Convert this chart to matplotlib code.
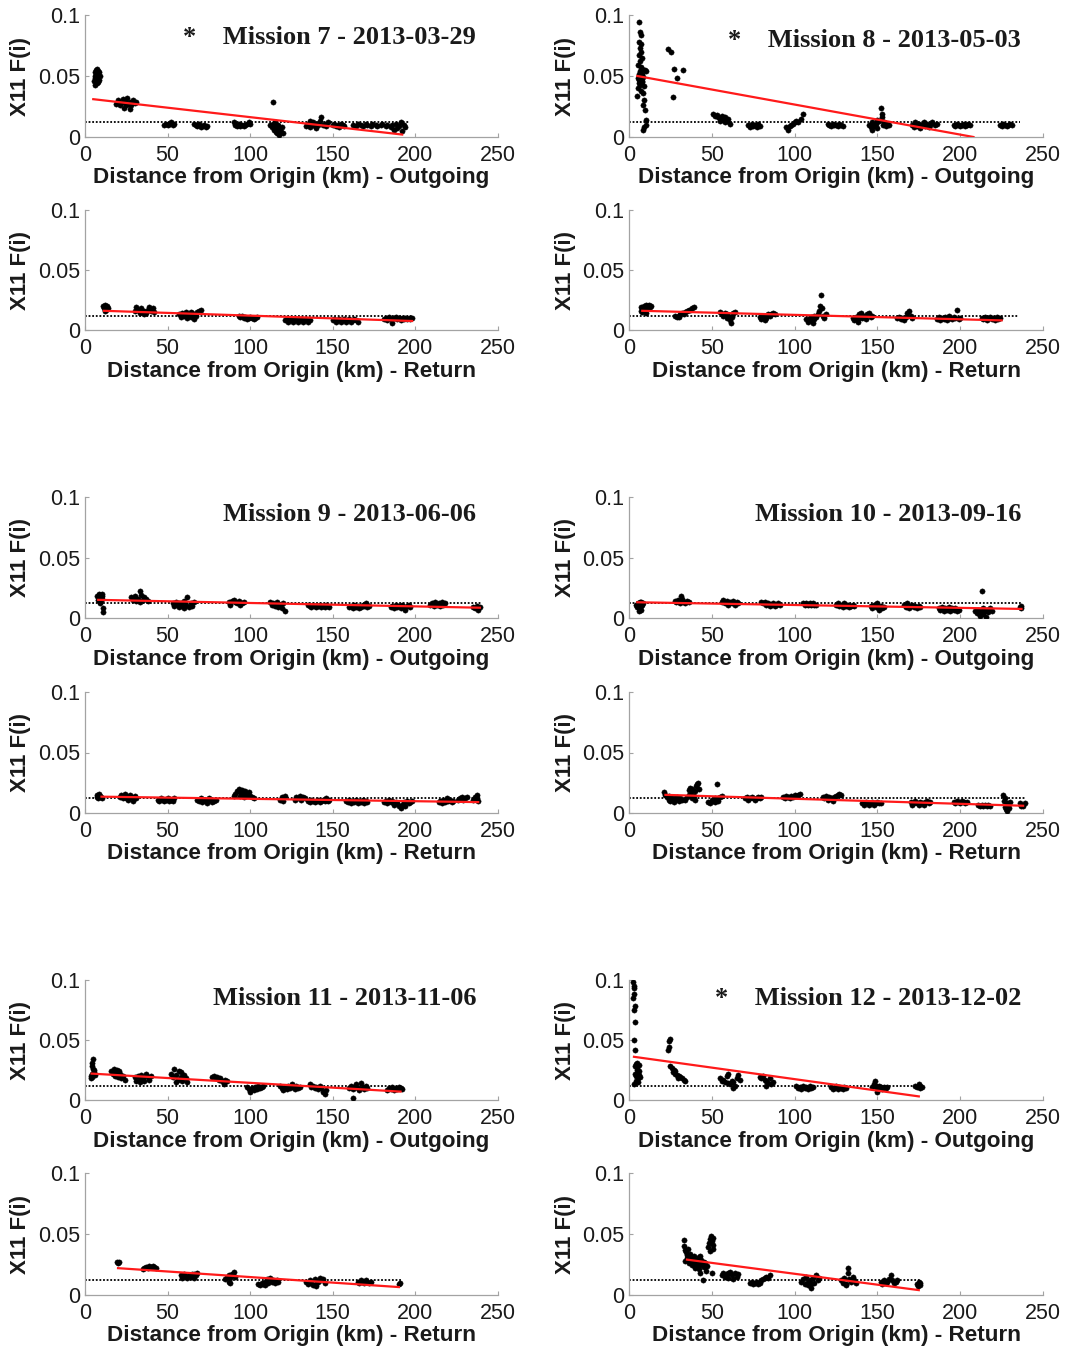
import matplotlib
matplotlib.use("Agg")
import matplotlib.pyplot as plt

# ---------------------------------------------------------------------------
# X11 F(i) versus distance from origin, outgoing and return legs per mission
# ---------------------------------------------------------------------------

m7_out = [(5.5, .046), (5.8, .050), (6.0, .053), (6.3, .048), (6.6, .055), (6.9, .051), (7.2, .044), (7.5, .049),
          (7.8, .054), (8.1, .052), (8.4, .047), (8.7, .053), (9.0, .050), (6.2, .043), (7.0, .056), (8.0, .045),
          (19, .027), (20, .030), (21, .026), (22, .028), (23, .031), (23.5, .024), (24, .029), (25, .026),
          (25.5, .032), (26, .027), (27, .023), (27.5, .029), (28, .026), (29, .030), (30, .028), (31, .029),
          (48, .010), (49, .011), (50, .0095), (51, .011), (52, .012), (53, .010), (54, .011),
          (66, .011), (67, .010), (68, .009), (69, .011), (70, .008), (71, .009), (72, .010), (73, .008), (74, .009),
          (90, .012), (91, .010), (92, .009), (93, .011), (94, .009), (95, .010), (96, .009), (97, .010), (98, .011),
          (99, .012), (100, .011), (114, .029),
          (112, .010), (113, .008), (114, .011), (114.5, .006), (115, .009), (115.5, .004), (116, .007), (116.5, .003),
          (117, .005), (117.5, .002), (118, .006), (118.5, .004), (119, .008), (120, .003), (115, .012), (117, .010),
          (134, .009), (135, .011), (136, .008), (137, .010), (138, .012), (139, .009), (140, .011), (141, .010),
          (142, .013), (143, .016), (144, .010), (145, .011), (146, .009), (147, .012), (136, .013), (140, .007),
          (150, .010), (151, .011), (152, .009), (153, .010), (154, .008), (155, .011), (156, .010), (157, .009),
          (162, .010), (164, .009), (165, .011), (167, .010), (168, .009), (170, .011), (171, .010), (173, .009),
          (174, .011), (176, .010), (177, .009), (179, .010), (180, .011), (182, .009), (183, .010),
          (185, .008), (186, .010), (187, .006), (188, .011), (189, .007), (190, .009), (191, .012), (192, .005),
          (193, .010), (194, .008)]

m7_ret = [(11, .020), (11.5, .018), (12, .021), (12.5, .019), (13, .017), (13.5, .020), (14, .018), (12, .016),
          (30, .016), (31, .019), (32, .017), (33, .014), (34, .018), (35, .015), (36, .016), (37, .014), (38, .017),
          (39, .019), (40, .016), (41, .018), (42, .015), (36, .013),
          (57, .013), (58, .011), (59, .014), (60, .012), (61, .015), (62, .010), (63, .013), (64, .011), (65, .014),
          (66, .009), (67, .012), (68, .015), (69, .016), (70, .017), (64, .015),
          (93, .012), (94, .011), (95, .012), (96, .010), (97, .011), (98, .009), (99, .010), (100, .011), (101, .010),
          (102, .009), (103, .010), (104, .011),
          (121, .008), (122, .009), (123, .007), (124, .008), (125, .009), (126, .007), (127, .008), (128, .009),
          (129, .007), (130, .008), (131, .009), (132, .007), (133, .008), (134, .009), (135, .007), (136, .008),
          (150, .008), (151, .009), (152, .007), (153, .008), (154, .009), (155, .007), (156, .008), (157, .009),
          (158, .007), (159, .008), (160, .009), (161, .007), (162, .008), (163, .009), (164, .008), (165, .007),
          (181, .009), (182, .010), (183, .008), (184, .011), (185, .009), (186, .006), (187, .010), (188, .011),
          (189, .009), (190, .010), (191, .008), (192, .010), (193, .009), (194, .010), (195, .009), (196, .010),
          (197, .009), (198, .010)]

m8_out = [(6, .094), (6.5, .086), (7, .084), (6.2, .078), (7.5, .076), (6.8, .073), (7.2, .070), (6.0, .067),
          (7.8, .065), (6.4, .062), (5.5, .059), (7.0, .057), (8.0, .056), (6.6, .054), (5.8, .052), (7.4, .050),
          (8.4, .049), (6.1, .047), (7.7, .045), (6.9, .043), (8.8, .042), (5.4, .040), (7.3, .038), (8.2, .036),
          (5.0, .034), (9.0, .030), (8.6, .026), (9.5, .022), (10.5, .014), (9.2, .008), (8.5, .006), (10, .010),
          (5.2, .048), (9.8, .055), (10.3, .054), (8.0, .052), (6.3, .044), (7.9, .046),
          (23.5, .072), (25.5, .070), (26.5, .033), (27, .056), (29, .048), (32.7, .055),
          (51, .019), (52, .017), (53, .018), (54, .016), (55, .015), (56, .017), (57, .014), (58, .016), (59, .013),
          (60, .015), (61, .011), (58, .012), (55, .013),
          (72, .010), (73, .008), (74, .011), (75, .009), (76, .010), (77, .008), (78, .011), (79, .009),
          (95, .008), (96, .006), (97, .009), (98, .010), (99, .011), (100, .012), (101, .013), (102, .012),
          (104, .015), (105, .019),
          (120, .011), (121, .010), (122, .009), (123, .011), (124, .010), (125, .010), (126, .009), (127, .011),
          (128, .010), (129, .009),
          (145, .010), (146, .008), (147, .012), (148, .009), (149, .011), (150, .007), (151, .013), (152, .024),
          (152.5, .019), (153, .016), (153.5, .010), (154, .012), (155, .009), (156, .011), (157, .010), (150, .014),
          (147, .006),
          (171, .010), (172, .008), (173, .012), (174, .009), (175, .011), (176, .007), (177, .010), (178, .012),
          (179, .009), (180, .011), (181, .008), (182, .010), (183, .012), (185, .010), (186, .011),
          (196, .010), (197, .009), (198, .011), (199, .010), (200, .009), (201, .010), (202, .011), (203, .009),
          (204, .010), (205, .011), (206, .010),
          (224, .010), (225, .009), (226, .011), (227, .010), (228, .009), (229, .010), (230, .011), (231, .010)]

m8_ret = [(7, .016), (7.5, .019), (8, .018), (8.5, .017), (9, .020), (9.5, .016), (10, .019), (10.5, .021),
          (11, .018), (11.5, .020), (12, .021), (12.5, .019), (13, .020), (8, .015), (10, .014),
          (28, .012), (29, .011), (30, .012), (31, .013), (32, .014), (33, .013), (34, .015), (35, .016), (36, .017),
          (37, .017), (38, .018), (39, .019), (30, .011),
          (55, .015), (56, .013), (57, .012), (58, .014), (59, .010), (60, .012), (61, .008), (61.5, .006), (62, .011),
          (63, .014), (64, .015), (59, .013),
          (79, .011), (80, .009), (81, .012), (82, .008), (83, .010), (84, .013), (85, .012), (86, .013), (87, .014),
          (88, .013), (82, .011),
          (107, .009), (108, .007), (109, .010), (110, .008), (111, .006), (112, .009), (113, .011), (114, .013),
          (115, .016), (115.5, .020), (116, .029), (116.5, .018), (117, .012), (118, .010), (119, .013), (112, .012),
          (110, .011),
          (135, .010), (136, .008), (137, .011), (138, .009), (139, .013), (140, .014), (141, .010), (142, .012),
          (143, .009), (144, .013), (145, .014), (146, .011), (147, .012), (138, .007),
          (162, .010), (163, .011), (164, .009), (165, .010), (166, .008), (167, .011), (168, .014), (169, .016),
          (170, .012), (171, .010),
          (186, .009), (187, .011), (188, .008), (189, .010), (190, .009), (191, .011), (192, .008), (193, .012),
          (194, .010), (195, .009), (196, .011), (197, .010), (198, .017), (199, .009), (200, .010),
          (213, .010), (214, .009), (215, .011), (216, .008), (217, .010), (218, .011), (219, .009), (220, .010),
          (221, .008), (222, .011), (223, .009), (224, .010)]

m9_out = [(7.5, .018), (8, .015), (8.5, .019), (9, .013), (9.5, .017), (10, .016), (10.5, .020), (11, .008),
          (10.8, .005), (9.2, .012), (8.2, .020), (10.2, .018),
          (28, .017), (29, .015), (30, .018), (31, .014), (32, .016), (33, .022), (34, .019), (35, .015), (36, .017),
          (37, .016), (33, .013), (38, .014),
          (53, .012), (54, .010), (55, .013), (56, .011), (57, .009), (58, .012), (59, .010), (60, .008), (61, .011),
          (62, .017), (63, .009), (64, .012), (65, .010), (66, .013), (60, .014), (57, .012),
          (87, .013), (88, .011), (89, .014), (90, .015), (91, .013), (92, .012), (93, .014), (94, .011), (95, .012),
          (96, .013),
          (112, .013), (113, .011), (114, .012), (115, .010), (116, .013), (117, .009), (118, .011), (119, .008),
          (120, .012), (121, .006),
          (135, .011), (136, .010), (137, .009), (138, .011), (139, .010), (140, .009), (141, .010), (142, .011),
          (143, .009), (144, .010), (145, .009), (146, .011), (147, .010), (148, .009),
          (160, .009), (161, .010), (162, .008), (163, .011), (164, .009), (165, .010), (166, .008), (167, .009),
          (168, .011), (169, .010), (170, .012), (171, .009), (172, .010),
          (185, .009), (186, .010), (187, .008), (188, .011), (189, .009), (190, .010), (191, .008), (192, .011),
          (193, .009), (194, .007), (195, .010), (196, .011), (197, .009),
          (209, .011), (210, .012), (211, .010), (212, .013), (213, .011), (214, .012), (215, .010), (216, .013),
          (217, .011), (218, .012),
          (235, .009), (236, .008), (237, .010), (238, .007), (239, .009)]

m9_ret = [(7, .013), (7.5, .015), (8, .012), (8.5, .016), (9, .014), (9.5, .013), (10, .012),
          (21, .013), (22, .015), (23, .012), (24, .016), (25, .014), (26, .011), (27, .015), (28, .013), (29, .010),
          (30, .014), (31, .012), (25, .012),
          (44, .011), (45, .010), (46, .012), (47, .011), (48, .010), (49, .011), (50, .012), (51, .010), (52, .011),
          (53, .010), (54, .012),
          (68, .011), (69, .010), (70, .012), (71, .009), (72, .011), (73, .010), (74, .008), (75, .012), (76, .011),
          (77, .009), (78, .010), (79, .011),
          (90, .014), (91, .016), (92, .018), (93, .020), (94, .017), (95, .019), (96, .016), (97, .018), (98, .015),
          (99, .017), (100, .014), (101, .013), (102, .012), (94, .014), (96, .013),
          (118, .011), (119, .013), (120, .010), (121, .014),
          (127, .011), (128, .013), (129, .012), (130, .014), (131, .011), (132, .013), (133, .012),
          (135, .010), (136, .009), (137, .011), (138, .010), (139, .009), (140, .010), (141, .011), (142, .009),
          (143, .010), (144, .011), (145, .010), (146, .012), (147, .010), (148, .011),
          (158, .010), (159, .009), (160, .011), (161, .008), (162, .010), (163, .009), (164, .011), (165, .008),
          (166, .010), (167, .009), (168, .011), (169, .008), (170, .010), (171, .009),
          (181, .009), (182, .010), (183, .008), (184, .011), (185, .009), (186, .010), (187, .007), (188, .009),
          (189, .008), (190, .006), (191, .004), (192, .007), (193, .009), (194, .006), (195, .010), (196, .008),
          (197, .009), (198, .010),
          (214, .009), (215, .010), (216, .008), (217, .011), (218, .009), (219, .012), (220, .010), (221, .011),
          (222, .009), (223, .010),
          (226, .011), (227, .012), (228, .013), (229, .011), (230, .012), (231, .013),
          (235, .011), (236, .013), (237, .015), (237.5, .012), (238, .010)]

m10_out = [(4.5, .011), (5, .009), (5.5, .012), (6, .008), (6.5, .013), (7, .010), (7.5, .007), (8, .011),
           (8.5, .012), (6, .006), (7, .013),
           (27.5, .014), (28.5, .013), (29.5, .015), (30.5, .012), (31.5, .018), (32, .016), (33, .013), (34, .012),
           (35, .014), (36, .013),
           (56, .013), (57, .015), (58, .012), (59, .014), (60, .011), (61, .013), (62, .012), (63, .014), (64, .011),
           (65, .013), (66, .012),
           (80, .013), (81, .012), (82, .013), (83, .011), (84, .012), (85, .010), (86, .011), (87, .012), (88, .010),
           (89, .011), (90, .012), (91, .011),
           (105, .012), (106, .011), (107, .012), (108, .011), (109, .012), (110, .011), (111, .012), (112, .011),
           (113, .011),
           (125, .011), (126, .012), (127, .010), (128, .011), (129, .009), (130, .012), (131, .010), (132, .011),
           (133, .009), (134, .010), (135, .011), (136, .010),
           (146, .010), (147, .008), (148, .011), (149, .009), (150, .012), (151, .007), (152, .010), (153, .008),
           (154, .009),
           (166, .011), (167, .009), (168, .012), (169, .008), (170, .010), (171, .011), (172, .009), (173, .010),
           (174, .008), (175, .010), (176, .009),
           (187, .008), (188, .007), (189, .009), (190, .006), (191, .008), (192, .007), (193, .009), (194, .006),
           (195, .008), (196, .007), (197, .008), (198, .006), (199, .007),
           (209, .006), (210, .004), (211, .007), (212, .002), (212.5, .005), (213, .022), (213.5, .008), (214, .003),
           (215, .006), (215.5, .001), (216, .007), (217, .005), (218, .008), (219, .006),
           (236, .009), (236.5, .008), (237, .010)]

m10_ret = [(21, .017), (22, .015), (23, .013), (24, .011), (25, .010), (26, .012), (27, .009), (28, .011),
           (29, .013), (30, .010), (31, .012), (32, .011), (24, .014), (28, .012),
           (34, .011), (35, .013), (36, .015), (36.5, .019), (37, .021), (37.5, .017), (38, .020), (39, .014),
           (40, .018), (40.5, .022), (41, .024), (41.5, .025), (42, .020), (40, .011), (38, .012),
           (48, .009), (49, .008), (50, .011), (51, .010), (52, .009), (53, .024), (53.5, .012), (54, .010),
           (55, .013), (56, .014), (52, .012),
           (70, .012), (71, .013), (72, .011), (73, .012), (74, .013), (75, .012), (76, .011), (77, .012), (78, .013),
           (79, .012), (80, .013),
           (93, .013), (94, .012), (95, .014), (96, .013), (97, .012), (98, .014), (99, .013), (100, .015),
           (101, .014), (102, .015), (103, .016),
           (117, .013), (118, .012), (119, .014), (120, .011), (121, .013), (122, .012), (123, .010), (124, .013),
           (125, .014), (126, .015), (127, .016), (128, .015),
           (141, .008), (142, .007), (143, .009), (144, .008), (145, .007), (146, .008), (147, .009), (148, .007),
           (149, .008), (150, .009), (151, .008), (152, .008),
           (170, .009), (171, .007), (172, .008), (173, .010), (174, .008), (175, .007), (176, .009), (177, .008),
           (178, .007), (179, .009), (180, .010), (181, .008), (182, .009),
           (196, .009), (197, .008), (198, .010), (199, .009), (200, .008), (201, .010), (202, .009), (203, .008),
           (204, .009),
           (211, .007), (212, .006), (213, .007), (214, .006), (215, .007), (216, .006), (217, .007), (218, .006),
           (226, .015), (226.5, .010), (227, .005), (227.5, .003), (228, .008), (228.5, .002), (229, .006),
           (229.5, .004), (230, .009), (227, .012),
           (236, .008), (236.5, .006), (237, .007), (238, .006), (239, .008)]

m11_out = [(3.5, .018), (4, .022), (4.5, .028), (5, .034), (5.5, .025), (4.2, .031), (3.8, .020), (5.2, .023),
           (4.8, .026), (5.8, .021), (4.4, .019),
           (16, .024), (17, .022), (17.5, .026), (18, .020), (18.5, .023), (19, .021), (19.5, .025), (20, .019),
           (21, .022), (22, .018), (23, .020), (24, .017), (20.5, .024),
           (30, .019), (31, .016), (32, .020), (33, .017), (34, .021), (35, .018), (36, .016), (37, .022), (38, .019),
           (39, .017), (40, .020), (33, .015),
           (52, .022), (53, .019), (54, .026), (55, .021), (56, .017), (57, .024), (58, .019), (59, .016), (60, .021),
           (61, .018), (62, .015), (55, .015), (58, .023),
           (77, .019), (78, .020), (79, .018), (80, .019), (81, .017), (82, .018), (83, .016), (84, .013), (85, .017),
           (86, .016),
           (98, .011), (99, .009), (100, .007), (101, .010), (102, .008), (103, .011), (104, .009), (105, .012),
           (106, .010), (107, .011), (108, .012),
           (118, .012), (119, .010), (120, .008), (121, .011), (122, .009), (123, .012), (124, .010), (125, .013),
           (126, .011), (127, .009), (128, .012), (129, .010), (130, .011),
           (136, .013), (137, .011), (138, .012), (139, .010), (140, .011), (141, .009), (142, .012), (143, .010),
           (144, .007), (145, .005), (146, .008),
           (160, .010), (161, .012), (162, .009), (162.5, .002), (163, .011), (164, .013), (165, .010), (166, .008),
           (167, .014), (168, .011), (169, .009), (170, .012), (171, .010),
           (183, .008), (184, .010), (185, .009), (186, .011), (187, .008), (188, .010), (189, .009), (190, .011),
           (191, .010), (192, .009)]

m11_ret = [(19.5, .027), (20, .026), (20.5, .027),
           (35, .021), (36, .022), (37, .023), (38, .022), (39, .024), (40, .023), (41, .024), (42, .023), (43, .022),
           (58, .016), (59, .014), (60, .017), (61, .015), (62, .014), (63, .016), (64, .015), (65, .017), (66, .014),
           (67, .016), (68, .018), (66, .017),
           (85, .013), (86, .015), (87, .011), (88, .014), (89, .017), (90, .019), (91, .015), (88, .010), (87, .016),
           (105, .009), (106, .008), (107, .010), (108, .009), (109, .011), (110, .013), (111, .010), (112, .014),
           (113, .011), (114, .012), (115, .010), (116, .012), (117, .011), (109, .008),
           (134, .011), (135, .009), (136, .012), (137, .010), (138, .008), (139, .013), (140, .007), (141, .011),
           (142, .014), (143, .012), (144, .013), (145, .010), (140, .009),
           (165, .011), (166, .010), (167, .012), (168, .011), (169, .010), (170, .012), (171, .011), (172, .010),
           (173, .011),
           (190, .009), (190.5, .010)]

m12_out = [(2.5, .098), (3, .095), (2.8, .093), (3.2, .088), (2.6, .085), (3.4, .078), (3.1, .075), (3.6, .065),
           (2.9, .050), (3.8, .042), (4.2, .030), (3.5, .028), (4.8, .025), (3.9, .022), (4.5, .020), (5.2, .018),
           (4.1, .016), (5.5, .015), (3.3, .013), (6, .024), (6.3, .029), (5.8, .021), (4.6, .027), (6.5, .019),
           (5, .031),
           (23.5, .042), (24, .044), (24.5, .051), (24.2, .049),
           (25, .028), (26, .027), (27, .025), (27.5, .022), (28, .024), (29, .021), (30, .020), (31, .019), (32, .018),
           (33, .017), (34, .016), (26.5, .023), (29.5, .018),
           (55, .018), (56, .016), (57, .017), (58, .015), (59, .020), (60, .014), (61, .013), (62, .016), (62.5, .010),
           (63, .015), (64, .012), (65, .018), (66, .021), (67, .017), (60, .022),
           (79, .019), (80, .018), (81, .020), (82, .017), (83, .016), (84, .014), (85, .018), (86, .013), (87, .015),
           (83, .012),
           (101, .012), (102, .010), (103, .011), (104, .009), (105, .012), (106, .010), (107, .011), (108, .009),
           (109, .012), (110, .010), (111, .011),
           (122, .011), (123, .009), (124, .010), (125, .012), (126, .009), (127, .011), (128, .010), (129, .009),
           (130, .011), (131, .010),
           (147, .011), (148, .013), (148.5, .016), (149, .012), (149.5, .007), (150, .010), (151, .012), (152, .011),
           (153, .009), (154, .011), (155, .010), (156, .011),
           (173, .012), (174, .011), (175, .013), (176, .012), (177, .011), (175.5, .010)]

m12_ret = [(33, .045), (33.5, .040), (34, .037), (34.5, .035), (35, .033), (35.5, .038), (36, .031), (36.5, .029),
           (37, .034), (37.5, .027), (38, .030), (38.5, .026), (39, .028), (39.5, .032), (40, .025), (40.5, .029),
           (41, .027), (41.5, .024), (42, .031), (42.5, .026), (34, .028), (36, .026), (38, .025), (40, .022),
           (35, .030),
           (42, .021), (43, .018), (43.5, .029), (44, .025), (44.5, .012), (45, .027), (45.5, .023), (46, .026),
           (46.5, .020), (47, .024), (43, .032),
           (48, .039), (48.5, .043), (49, .046), (49.5, .048), (50, .044), (50.5, .041), (51, .047), (49, .036),
           (50, .018), (51, .038),
           (56, .016), (57, .018), (58, .015), (59, .017), (60, .014), (61, .019), (62, .016), (63, .013), (64, .018),
           (65, .015), (66, .017), (60, .018),
           (73, .010), (74, .011), (75, .009), (76, .010), (77, .011), (78, .009), (79, .010), (80, .012), (81, .013),
           (82, .014), (83, .015), (84, .014), (85, .016),
           (104, .011), (105, .013), (106, .009), (107, .015), (108, .008), (109, .012), (110, .006), (111, .014),
           (112, .010), (113, .016), (114, .012), (115, .014), (108, .011), (110, .009),
           (128, .012), (129, .010), (130, .014), (131, .009), (132, .018), (132.5, .022), (133, .013), (134, .011),
           (135, .015), (136, .012), (137, .010), (131, .008),
           (152, .011), (153, .009), (154, .012), (155, .010), (156, .011), (157, .013), (158, .016), (159, .012),
           (160, .010), (161, .011), (162, .012),
           (174, .009), (174.5, .007), (175, .011), (175.5, .008), (176, .010)]

# Linear trend of each leg: (x start, F start, x end, F end)
fits = {
    "m7_out": (5, .031, 192, .002),    "m7_ret": (11.5, .016, 198, .0075),
    "m8_out": (5, .050, 208, .000),    "m8_ret": (8, .016, 225, .008),
    "m9_out": (8, .015, 239, .0085),   "m9_ret": (10, .0135, 238, .009),
    "m10_out": (5, .013, 237, .0075),  "m10_ret": (22, .015, 238, .006),
    "m11_out": (4, .022, 191, .007),   "m11_ret": (20, .022, 190, .0065),
    "m12_out": (3, .036, 175, .003),   "m12_ret": (35, .029, 175, .004),
}

# Reference level and the distance it is drawn to on each leg
threshold = 0.012
threshold_end = {
    "m7_out": 197, "m7_ret": 198, "m8_out": 236, "m8_ret": 235,
    "m9_out": 240, "m9_ret": 238, "m10_out": 237, "m10_ret": 239,
    "m11_out": 192, "m11_ret": 191, "m12_out": 177, "m12_ret": 176,
}

titles = {
    "m7_out": ("Mission 7 - 2013-03-29", True),
    "m8_out": ("Mission 8 - 2013-05-03", True),
    "m9_out": ("Mission 9 - 2013-06-06", False),
    "m10_out": ("Mission 10 - 2013-09-16", False),
    "m11_out": ("Mission 11 - 2013-11-06", False),
    "m12_out": ("Mission 12 - 2013-12-02", True),
}

series = {
    "m7_out": m7_out, "m7_ret": m7_ret, "m8_out": m8_out, "m8_ret": m8_ret,
    "m9_out": m9_out, "m9_ret": m9_ret, "m10_out": m10_out, "m10_ret": m10_ret,
    "m11_out": m11_out, "m11_ret": m11_ret, "m12_out": m12_out, "m12_ret": m12_ret,
}

x_ticks = [0, 50, 100, 150, 200, 250]
y_ticks = [0, 0.05, 0.1]
y_tick_labels = ["0", "0.05", "0.1"]

# grid placement in pixels
W, H = 1070, 1348
col_left = [85, 629]
col_width = [413, 414]
row_top = [15, 210, 497, 692, 980, 1173]
row_bottom = [137, 330, 618, 813, 1100, 1295]
title_y = {(0, 0): 0.815, (0, 1): 0.79, (2, 0): 0.857, (2, 1): 0.857, (4, 0): 0.847, (4, 1): 0.847}

layout = [
    ("m7_out", 0, 0), ("m8_out", 0, 1), ("m7_ret", 1, 0), ("m8_ret", 1, 1),
    ("m9_out", 2, 0), ("m10_out", 2, 1), ("m9_ret", 3, 0), ("m10_ret", 3, 1),
    ("m11_out", 4, 0), ("m12_out", 4, 1), ("m11_ret", 5, 0), ("m12_ret", 5, 1),
]

SANS = "Liberation Sans"
SERIF = "Liberation Serif"
spine_col = "#a3a3a3"
text_col = "#1a1a1a"

fig = plt.figure(figsize=(W / 100, H / 100), dpi=100)
fig.patch.set_facecolor("white")

for key, r, c in layout:
    left = col_left[c] / W
    width = col_width[c] / W
    bottom = 1 - row_bottom[r] / H
    height = (row_bottom[r] - row_top[r]) / H
    ax = fig.add_axes([left, bottom, width, height])

    pts = series[key]
    xs = [p[0] for p in pts]
    ys = [p[1] for p in pts]

    ax.plot([0, threshold_end[key]], [threshold, threshold], color="black",
            linestyle=(0, (1, 1)), linewidth=1.3, zorder=2)
    ax.plot(xs, ys, linestyle="none", marker="o", markersize=3.8,
            markerfacecolor="black", markeredgecolor="black", markeredgewidth=0.3, zorder=3)
    x0, y0, x1, y1 = fits[key]
    ax.plot([x0, x1], [y0, y1], color="#ff1a1a", linewidth=1.6, zorder=4)

    ax.set_xlim(0, 250)
    ax.set_ylim(0, 0.1)
    ax.set_xticks(x_ticks)
    ax.set_xticklabels([str(t) for t in x_ticks])
    ax.set_yticks(y_ticks)
    ax.set_yticklabels(y_tick_labels)

    for s in ("top", "right"):
        ax.spines[s].set_visible(False)
    for s in ("left", "bottom"):
        ax.spines[s].set_color(spine_col)
        ax.spines[s].set_linewidth(0.9)

    ax.tick_params(axis="both", direction="in", length=3, width=0.8, color=spine_col,
                   labelcolor=text_col, labelsize=15.5)
    ax.tick_params(axis="x", pad=5.5)
    ax.tick_params(axis="y", pad=3.5)
    for lbl in ax.get_xticklabels() + ax.get_yticklabels():
        lbl.set_fontfamily(SANS)

    leg = "Outgoing" if key.endswith("_out") else "Return"
    ax.set_xlabel(f"Distance from Origin (km) - {leg}", fontfamily=SANS, fontweight="bold",
                  fontsize=16.2, color=text_col, va="center")
    ax.xaxis.set_label_coords(0.5, -(41 / (row_bottom[r] - row_top[r])))
    ax.set_ylabel("X11 F(i)", fontfamily=SANS, fontweight="bold", fontsize=16,
                  color=text_col, va="center")
    ax.yaxis.set_label_coords(-(64 / col_width[c]), 0.5)

    if key in titles:
        name, star = titles[key]
        label = ("*    " + name) if star else name
        ax.text(0.947, title_y[(r, c)], label, transform=ax.transAxes, ha="right", va="center",
                fontfamily=SERIF, fontweight="bold", fontsize=19, color=text_col)

fig.savefig("out.png", dpi=100, facecolor="white")
